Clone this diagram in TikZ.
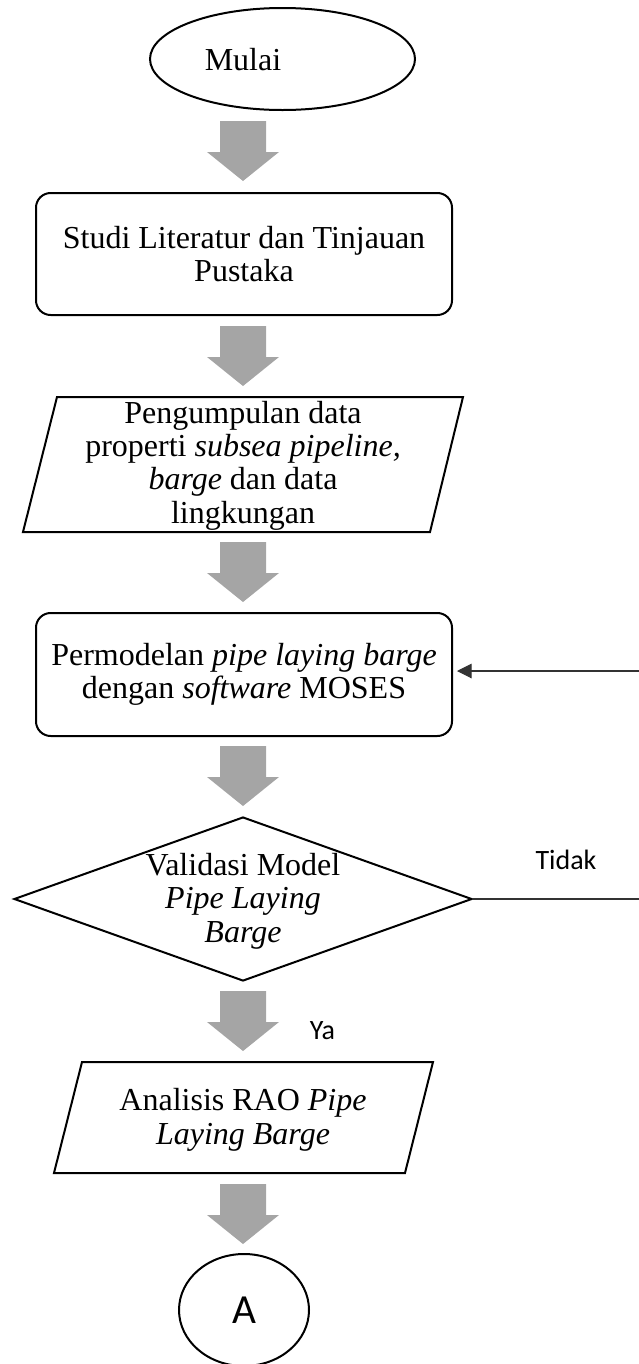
\documentclass[tikz,border=0pt]{standalone}
\usepackage{fontspec}
\setmainfont{Liberation Serif}
\newfontfamily\sansfnt{Carlito}
\usetikzlibrary{shapes.geometric,arrows.meta}
\definecolor{arrowgray}{HTML}{A5A5A5}
\begin{document}
\begin{tikzpicture}[x=0.75pt,y=-0.75pt,
  shapeline/.style={draw=black,line width=1.5pt},
  body/.style={font=\fontsize{24}{25}\selectfont, align=center, inner sep=0pt},
  lbl/.style={font=\sansfnt\fontsize{21}{21}\selectfont, inner sep=0pt},
  fbline/.style={draw=black!80, line width=0.8pt},
  roundbox/.style={rectangle, rounded corners=11pt, shapeline, minimum width=312pt, body},
  blockarr/.pic={\fill[arrowgray] (-23,0) -- (23,0) -- (23,31) -- (36,31) -- (0,60) -- (-36,31) -- (-23,31) -- cycle;}
]
\useasboundingbox (0,0) rectangle (639,1364);

% Start
\node[ellipse, shapeline, minimum width=198.75pt, minimum height=76.5pt, inner sep=0pt] (start) at (282.5,59) {};
\node[body, anchor=base] (starttext) at (243,70) {Mulai};

\pic at (243,121) {blockarr};

% Box 2
\node[roundbox, minimum height=91.5pt] (box2) at (244,254) {Studi Literatur dan Tinjauan\\Pustaka};

\pic at (243,326) {blockarr};

% Parallelogram 1
\coordinate (p1a) at (57,397);
\coordinate (p1b) at (463,397);
\coordinate (p1c) at (430,532);
\coordinate (p1d) at (23,532);
\draw[shapeline, line join=miter] (p1a) -- (p1b) -- (p1c) -- (p1d) -- cycle;
\node[body] (para1text) at (243,465.5) {Pengumpulan data\\properti \textit{subsea pipeline,}\\\textit{barge} dan data\\lingkungan};

\pic at (243,542) {blockarr};

% Box 4
\node[roundbox, minimum height=92.25pt] (box4) at (244,674.5) {Permodelan \textit{pipe laying barge}\\dengan \textit{software} MOSES};

\pic at (243,746) {blockarr};

% Decision
\node[diamond, shapeline, minimum width=343.5pt, minimum height=123pt, inner sep=0pt] (dia) at (243,899) {};
\node[body] (diatext) at (243,901) {Validasi Model\\\textit{Pipe Laying}\\\textit{Barge}};

\node[lbl, anchor=base] (tidak) at (566,869) {Tidak};
\coordinate (fbA) at (639,899);
\coordinate (fbB) at (639,671);
\draw[fbline] (dia.east) -- (fbA);
\draw[fbline, -{Triangle[length=11pt,width=11pt]}, shorten >=3pt] (fbB) -- (fbB -| box4.east);

\pic at (243,991) {blockarr};
\node[lbl, anchor=base] (ya) at (322.5,1039) {Ya};

% Parallelogram 2
\coordinate (p2a) at (82,1062);
\coordinate (p2b) at (433,1062);
\coordinate (p2c) at (405,1173);
\coordinate (p2d) at (54,1173);
\draw[shapeline, line join=miter] (p2a) -- (p2b) -- (p2c) -- (p2d) -- cycle;
\node[body] (para2text) at (243,1120) {Analisis RAO \textit{Pipe}\\\textit{Laying Barge}};

\pic at (243,1184) {blockarr};

% Connector A
\node[ellipse, shapeline, minimum width=97.5pt, minimum height=84pt, inner sep=0pt,
      font=\sansfnt\fontsize{31}{31}\selectfont] (endA) at (244,1310) {A};
\end{tikzpicture}
\end{document}
